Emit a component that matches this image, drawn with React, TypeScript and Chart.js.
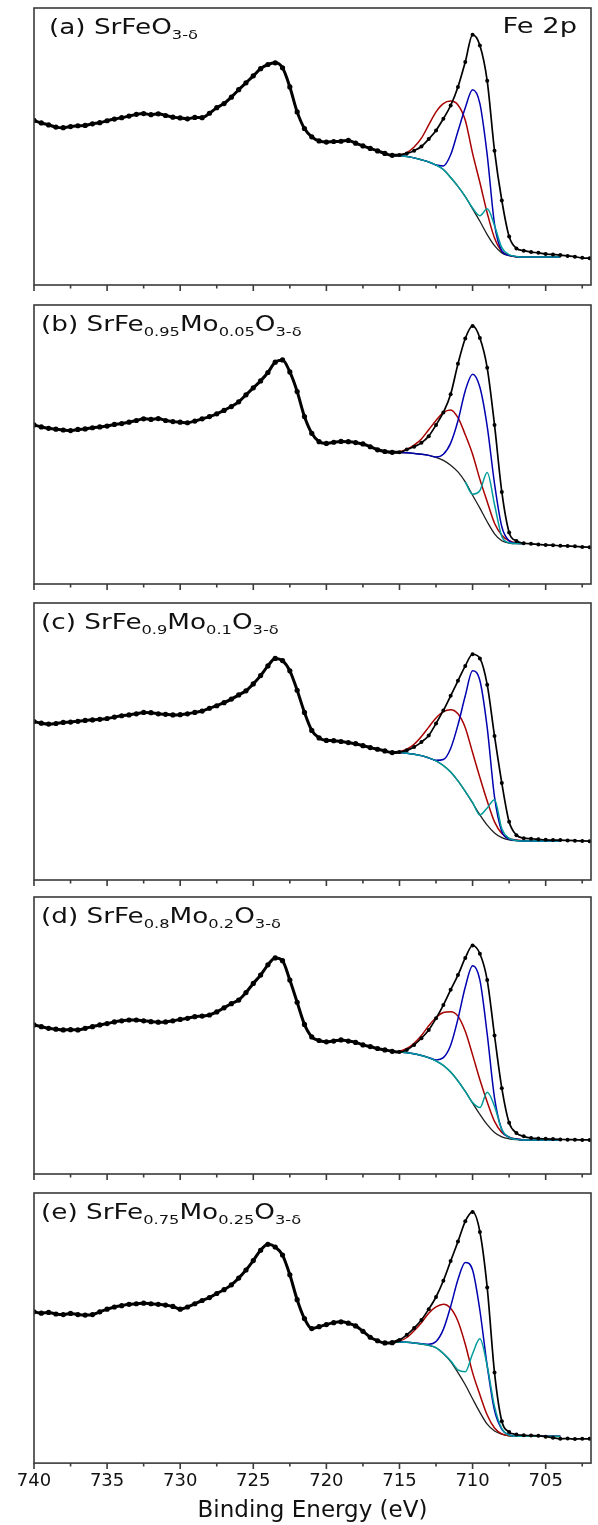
import React, { useEffect, useRef } from "react";
import { Chart, registerables } from "chart.js";
Chart.register(...registerables);

const FONT = "'DejaVu Sans', 'Liberation Sans', sans-serif";
const PAGE_W = 598;
const PAGE_H = 1525;

// ---- axis / categories ----
const energy = [
  740, 739.5, 739, 738.5, 738, 737.5, 737, 736.5, 736, 735.5,
  735, 734.5, 734, 733.5, 733, 732.5, 732, 731.5, 731, 730.5,
  730, 729.5, 729, 728.5, 728, 727.5, 727, 726.5, 726, 725.5,
  725, 724.5, 724, 723.5, 723, 722.5, 722, 721.5, 721, 720.5,
  720, 719.5, 719, 718.5, 718, 717.5, 717, 716.5, 716, 715.5,
  715, 714.5, 714, 713.5, 713, 712.5, 712, 711.5, 711, 710.5,
  710, 709.5, 709, 708.5, 708, 707.5, 707, 706.5, 706, 705.5,
  705, 704.5, 704, 703.5, 703, 702.5, 702,
];
const fitEnergy = [
  715.5, 715, 714.5, 714, 713.5, 713, 712.5, 712, 711.5, 711, 710.5, 710,
  709.5, 709, 708.5, 708, 707.5, 707, 706.5, 706, 705.5, 705, 704.5, 704,
];
const majorTicks = [740, 735, 730, 725, 720, 715, 710, 705];
const minorTicks = [737.5, 732.5, 727.5, 722.5, 717.5, 712.5, 707.5, 702.5];
const xTitle = "Binding Energy (eV)";
const coreLevel = "Fe 2p";

// label pieces: [text, isSubscript]
const labelA: [string, boolean][] = [["(a) SrFeO", false], ["3-δ", true]];
const labelB: [string, boolean][] = [["(b) SrFe", false], ["0.95", true], ["Mo", false], ["0.05", true], ["O", false], ["3-δ", true]];
const labelC: [string, boolean][] = [["(c) SrFe", false], ["0.9", true], ["Mo", false], ["0.1", true], ["O", false], ["3-δ", true]];
const labelD: [string, boolean][] = [["(d) SrFe", false], ["0.8", true], ["Mo", false], ["0.2", true], ["O", false], ["3-δ", true]];
const labelE: [string, boolean][] = [["(e) SrFe", false], ["0.75", true], ["Mo", false], ["0.25", true], ["O", false], ["3-δ", true]];

// ---- measured intensities (a.u.) ----
const intensityA = [
  59.4, 58.5, 57.8, 57.0, 56.8, 57.2, 57.5, 57.6, 58.2, 58.6,
  59.3, 59.9, 60.4, 61.0, 61.6, 61.9, 61.5, 61.8, 61.2, 60.6,
  60.3, 60.0, 60.5, 60.4, 62.0, 64.0, 65.5, 67.8, 70.5, 73.0,
  75.5, 78.1, 79.6, 80.2, 78.4, 71.5, 62.5, 56.5, 53.5, 52.0,
  51.6, 51.8, 51.9, 52.2, 51.2, 50.2, 49.3, 48.4, 47.5, 46.8,
  46.9, 47.5, 48.5, 50.0, 52.7, 55.8, 60.0, 64.8, 71.5, 80.5,
  90.3, 86.5, 73.7, 48.5, 30.5, 17.5, 13.2, 12.4, 11.9, 11.6,
  11.2, 11.0, 10.8, 10.5, 10.2, 9.8, 9.7,
];
const intensityB = [
  57.0, 56.3, 55.8, 55.5, 55.2, 55.0, 55.4, 55.6, 56.0, 56.3,
  56.6, 57.2, 57.5, 58.0, 58.6, 59.2, 59.0, 59.3, 58.6, 58.2,
  58.0, 57.8, 58.4, 59.2, 60.0, 61.0, 62.2, 63.6, 65.3, 67.8,
  70.3, 72.8, 75.8, 79.5, 80.3, 76.0, 69.0, 60.0, 54.0, 51.0,
  50.4, 50.8, 51.1, 51.0, 50.7, 50.2, 49.2, 48.1, 47.5, 47.2,
  47.2, 48.2, 49.2, 50.6, 53.0, 57.0, 61.5, 68.0, 78.9, 88.0,
  92.5, 88.2, 77.5, 57.0, 33.0, 18.5, 15.4, 14.6, 14.4, 14.2,
  14.0, 13.9, 13.7, 13.6, 13.5, 13.3, 13.2,
];
const intensityC = [
  57.2, 56.6, 56.3, 56.5, 56.9, 57.0, 57.3, 57.6, 57.8, 58.0,
  58.3, 58.8, 59.3, 59.6, 60.0, 60.5, 60.4, 60.0, 59.8, 59.6,
  59.7, 60.0, 60.5, 61.0, 62.0, 62.9, 64.0, 65.3, 66.8, 68.3,
  70.8, 73.8, 77.3, 80.0, 79.2, 75.5, 68.5, 60.5, 54.0, 51.3,
  50.4, 50.3, 50.0, 49.6, 49.2, 48.5, 47.8, 47.2, 46.6, 46.0,
  46.2, 46.8, 48.0, 49.8, 52.2, 56.5, 61.2, 66.5, 71.9, 77.3,
  81.5, 80.0, 70.5, 52.0, 35.0, 21.0, 16.2, 15.1, 14.9, 14.7,
  14.5, 14.4, 14.4, 14.3, 14.2, 14.1, 14.0,
];
const intensityD = [
  53.8, 53.2, 52.6, 52.3, 52.0, 52.1, 52.0, 52.6, 53.2, 53.8,
  54.3, 54.9, 55.3, 55.6, 55.6, 55.3, 55.0, 54.8, 54.9, 55.3,
  55.8, 56.2, 56.8, 57.0, 57.4, 58.5, 60.0, 61.5, 62.8, 65.5,
  68.8, 71.8, 75.5, 78.0, 77.0, 70.0, 62.0, 54.0, 49.5, 48.2,
  47.7, 48.0, 48.4, 48.0, 47.5, 46.6, 46.0, 45.3, 44.8, 44.3,
  44.0, 44.8, 46.6, 49.0, 52.0, 56.2, 61.0, 66.5, 71.8, 78.0,
  82.5, 79.5, 70.0, 50.0, 31.0, 18.5, 14.8, 13.6, 13.0, 12.8,
  12.7, 12.6, 12.5, 12.4, 12.4, 12.3, 12.3,
];
const intensityE = [
  56.0, 55.5, 55.8, 55.2, 55.0, 55.4, 55.0, 54.8, 55.0, 56.0,
  57.0, 57.8, 58.3, 58.8, 59.0, 59.2, 59.0, 58.8, 58.5, 58.0,
  57.0, 57.8, 59.0, 60.2, 61.3, 62.8, 64.2, 66.0, 68.5, 71.5,
  75.0, 78.8, 81.0, 80.0, 77.0, 69.7, 60.5, 53.5, 49.8, 50.5,
  51.3, 52.0, 52.3, 51.8, 50.8, 48.8, 46.6, 45.3, 44.5, 44.6,
  45.6, 47.5, 50.0, 53.0, 57.0, 61.5, 67.5, 74.8, 82.0, 89.5,
  93.0, 85.6, 65.0, 33.5, 15.5, 11.5, 10.6, 10.3, 10.2, 10.1,
  9.8, 9.4, 9.0, 9.1, 8.9, 9.0, 9.0,
];

// ---- fitted components (background, red, blue, cyan) ----
const bgA = [46.8, 46.7, 46.4, 45.9, 45.2, 44.4, 43.3, 41.7, 38.8, 35.6, 31.9, 27.5, 23.0, 18.2, 14.2, 11.6, 10.6, 10.2, 10.1, 10.1, 10.1, 10.1, 10.1, 10.1];
const cyanA = [46.8, 46.7, 46.4, 45.9, 45.2, 44.4, 43.3, 41.7, 38.8, 35.6, 31.9, 27.8, 25.0, 27.5, 21.5, 13.5, 11.0, 10.3, 10.1, 10.1, 10.1, 10.1, 10.1, 10.1];
const redA = [46.8, 47.0, 47.8, 49.8, 53.0, 57.8, 62.5, 65.5, 66.4, 65.0, 59.5, 47.5, 37.0, 26.0, 17.0, 12.2, 10.7, 10.2, 10.1, 10.1, 10.1, 10.1, 10.1, 10.1];
const blueA = [46.8, 46.7, 46.4, 45.9, 45.2, 44.4, 43.3, 43.0, 47.0, 55.5, 64.0, 70.5, 65.5, 47.0, 22.0, 12.3, 10.7, 10.2, 10.1, 10.1, 10.1, 10.1, 10.1, 10.1];

const bgB = [47.1, 47.1, 47.0, 46.8, 46.5, 46.1, 45.4, 44.3, 42.6, 40.2, 36.6, 31.8, 27.2, 22.3, 18.0, 15.5, 14.7, 14.5, 14.5, null, null, null, null, null];
const cyanB = [null, null, null, null, null, null, null, null, null, null, 36.6, 32.2, 33.5, 40.0, 28.5, 17.0, 14.8, 14.5, 14.5, null, null, null, null, null];
const redB = [47.1, 47.4, 48.3, 49.8, 52.0, 55.3, 58.6, 61.5, 62.4, 59.6, 53.5, 46.5, 37.5, 29.5, 21.8, 17.5, 15.5, 14.7, 14.5, null, null, null, null, null];
const blueB = [47.1, 47.1, 47.0, 46.8, 46.5, 46.1, 45.5, 46.5, 50.5, 58.5, 69.3, 75.2, 70.5, 56.5, 36.0, 20.5, 15.5, 14.6, 14.5, null, null, null, null, null];

const bgC = [46.0, 46.0, 45.8, 45.4, 44.9, 44.1, 43.0, 41.3, 39.0, 35.8, 32.0, 27.8, 23.5, 19.8, 17.0, 15.3, 14.5, 14.2, 14.1, 14.1, 14.1, 14.1, 14.1, 14.1];
const cyanC = [46.0, 46.0, 45.8, 45.4, 44.9, 44.1, 43.0, 41.3, 39.0, 35.8, 32.0, 28.0, 23.5, 26.0, 29.0, 18.5, 15.0, 14.3, 14.1, 14.1, 14.1, 14.1, 14.1, 14.1];
const redC = [46.0, 46.3, 47.2, 49.0, 51.8, 55.2, 58.5, 60.8, 61.5, 60.0, 55.0, 46.0, 37.0, 28.5, 21.0, 16.8, 15.0, 14.4, 14.1, 14.1, 14.1, 14.1, 14.1, 14.1];
const blueC = [46.0, 46.0, 45.8, 45.4, 44.9, 44.1, 43.2, 43.5, 47.5, 56.0, 66.5, 75.5, 72.0, 55.0, 30.0, 17.5, 14.8, 14.3, 14.1, 14.1, 14.1, 14.1, 14.1, 14.1];

const bgD = [44.0, 44.0, 43.8, 43.4, 42.8, 42.0, 40.8, 39.2, 36.8, 33.6, 29.8, 25.6, 21.5, 17.8, 15.0, 13.4, 12.7, 12.4, 12.3, 12.3, 12.3, 12.3, 12.3, 12.3];
const cyanD = [44.0, 44.0, 43.8, 43.4, 42.8, 42.0, 40.8, 39.2, 36.8, 33.6, 29.8, 25.8, 24.0, 29.5, 24.5, 16.0, 13.2, 12.5, 12.3, 12.3, 12.3, 12.3, 12.3, 12.3];
const redD = [44.0, 44.3, 45.3, 47.2, 50.0, 53.5, 56.5, 58.3, 58.6, 57.0, 51.5, 43.0, 34.0, 26.0, 19.0, 15.0, 13.3, 12.6, 12.3, 12.3, 12.3, 12.3, 12.3, 12.3];
const blueD = [44.0, 44.0, 43.8, 43.4, 42.8, 42.0, 41.2, 42.0, 46.5, 56.0, 67.5, 75.2, 70.0, 50.5, 27.5, 16.0, 13.3, 12.6, 12.3, 12.3, 12.3, 12.3, 12.3, 12.3];

const bgE = [44.8, 44.8, 44.7, 44.5, 44.1, 43.6, 42.7, 40.6, 37.6, 33.5, 29.0, 23.8, 18.8, 14.4, 11.9, 10.7, 10.1, 9.9, 9.9, 9.9, 9.9, 9.9, 9.9, 9.9];
const cyanE = [44.8, 44.8, 44.7, 44.5, 44.1, 43.6, 42.7, 40.6, 37.9, 34.5, 33.8, 40.5, 46.0, 36.0, 21.0, 12.8, 10.3, 9.9, 9.9, 9.9, 9.9, 9.9, 9.9, 9.9];
const redE = [44.8, 45.2, 46.5, 49.0, 52.0, 55.5, 57.8, 58.8, 57.3, 52.5, 44.0, 33.5, 25.3, 17.8, 13.0, 10.8, 10.1, 9.9, 9.9, 9.9, 9.9, 9.9, 9.9, 9.9];
const blueE = [44.8, 44.8, 44.7, 44.5, 44.2, 44.0, 45.0, 49.5, 58.0, 68.0, 74.3, 71.5, 56.5, 36.0, 19.5, 12.5, 10.5, 9.9, 9.9, 9.9, 9.9, 9.9, 9.9, 9.9];

type Piece = [string, boolean];
interface PanelDef {
  label: Piece[];
  data: number[];
  bg: (number | null)[];
  red: (number | null)[];
  blue: (number | null)[];
  cyan: (number | null)[];
  top: number;
  bottom: number;
  labelX: number;
}

const panels: PanelDef[] = [
  { label: labelA, data: intensityA, bg: bgA, red: redA, blue: blueA, cyan: cyanA, top: 7, bottom: 285, labelX: 49 },
  { label: labelB, data: intensityB, bg: bgB, red: redB, blue: blueB, cyan: cyanB, top: 304, bottom: 584, labelX: 41 },
  { label: labelC, data: intensityC, bg: bgC, red: redC, blue: blueC, cyan: cyanC, top: 602, bottom: 880, labelX: 41 },
  { label: labelD, data: intensityD, bg: bgD, red: redD, blue: blueD, cyan: cyanD, top: 896, bottom: 1174, labelX: 41 },
  { label: labelE, data: intensityE, bg: bgE, red: redE, blue: blueE, cyan: cyanE, top: 1192, bottom: 1470, labelX: 41 },
];

const pts = (xs: number[], ys: (number | null)[]) => xs.map((x, i) => ({ x, y: ys[i] }));

function Panel({ def, index }: { def: PanelDef; index: number }) {
  const ref = useRef<HTMLCanvasElement>(null);
  const isLast = index === panels.length - 1;
  const canvasTop = def.top - 3;
  const canvasHeight = isLast ? PAGE_H - canvasTop : def.bottom - def.top + 3 + 12;

  useEffect(() => {
    if (!ref.current) return;
    const decor = {
      id: "decor" + index,
      afterDraw(chart: any) {
        const { ctx, chartArea: ca } = chart;
        const xs = chart.scales.x;
        ctx.save();
        ctx.strokeStyle = "#3a3a3a";
        ctx.lineWidth = 1.6;
        ctx.strokeRect(ca.left, ca.top, ca.right - ca.left, ca.bottom - ca.top);
        ctx.beginPath();
        for (const v of majorTicks) {
          const p = xs.getPixelForValue(v);
          ctx.moveTo(p, ca.bottom);
          ctx.lineTo(p, ca.bottom + 6);
        }
        for (const v of minorTicks) {
          const p = xs.getPixelForValue(v);
          ctx.moveTo(p, ca.bottom);
          ctx.lineTo(p, ca.bottom + 3.5);
        }
        ctx.stroke();
        ctx.restore();

        // sample label
        ctx.save();
        ctx.fillStyle = "#111";
        ctx.textBaseline = "alphabetic";
        ctx.textAlign = "left";
        ctx.translate(def.labelX, ca.top + 26);
        ctx.scale(1.25, 1);
        let cx = 0;
        for (const [t, sub] of def.label) {
          ctx.font = sub ? `13px ${FONT}` : `21px ${FONT}`;
          ctx.fillText(t, cx, sub ? 5 : 0);
          cx += ctx.measureText(t).width;
        }
        ctx.restore();

        if (index === 0) {
          ctx.save();
          ctx.fillStyle = "#111";
          ctx.textAlign = "right";
          ctx.textBaseline = "alphabetic";
          ctx.translate(577, ca.top + 25);
          ctx.scale(1.3, 1);
          ctx.font = `21px ${FONT}`;
          ctx.fillText(coreLevel, 0, 0);
          ctx.restore();
        }
      },
    };

    const line = (data: any, color: string, width: number) => ({
      data,
      borderColor: color,
      backgroundColor: color,
      borderWidth: width,
      pointRadius: 0,
      fill: false,
      cubicInterpolationMode: "monotone" as const,
      spanGaps: false,
    });

    const chart = new Chart(ref.current, {
      type: "line",
      data: {
        datasets: [
          {
            data: pts(energy, def.data),
            borderColor: "#000",
            backgroundColor: "#000",
            borderWidth: 3,
            segment: {
              borderWidth: (c: any) => (c.p0.parsed.x < 715.2 ? 1.7 : 3),
            },
            pointRadius: (c: any) => (c.raw && c.raw.x < 715.2 ? 2 : 2.6),
            pointBorderWidth: 0,
            pointBackgroundColor: "#000",
            fill: false,
            cubicInterpolationMode: "monotone",
          },
          line(pts(fitEnergy, def.cyan), "#009c9c", 1.5),
          line(pts(fitEnergy, def.blue), "#0000b0", 1.5),
          line(pts(fitEnergy, def.red), "#a80000", 1.5),
          line(pts(fitEnergy, def.bg), "#1e1e1e", 1.3),
        ],
      },
      options: {
        responsive: false,
        animation: false,
        events: [],
        layout: { padding: { top: 3, left: 34, right: PAGE_W - 591, bottom: isLast ? 0 : 12 } },
        plugins: { legend: { display: false }, tooltip: { enabled: false } },
        scales: {
          y: { type: "linear", min: 0, max: 100, display: false },
          x: {
            type: "linear",
            min: 701.9,
            max: 740,
            reverse: true,
            display: isLast,
            grid: { display: false, drawTicks: false },
            border: { display: false },
            afterBuildTicks: (s: any) => {
              s.ticks = majorTicks.map((v) => ({ value: v }));
            },
            ticks: {
              autoSkip: false,
              maxRotation: 0,
              padding: 7,
              color: "#111",
              font: { family: FONT, size: 18 },
              callback: (v: any) => String(v),
            },
            title: {
              display: true,
              text: xTitle,
              color: "#111",
              font: { family: FONT, size: 23, lineHeight: 1.1 },
              padding: { top: 0, bottom: 1 },
            },
          },
        },
      },
      plugins: [decor],
    });
    return () => chart.destroy();
  }, []);

  return (
    <canvas
      ref={ref}
      width={PAGE_W}
      height={canvasHeight}
      style={{ position: "absolute", left: 0, top: canvasTop, width: PAGE_W, height: canvasHeight }}
    />
  );
}

export default function App() {
  return (
    <div style={{ position: "absolute", left: 0, top: 0, width: PAGE_W, height: PAGE_H, background: "#fff" }}>
      {panels.map((p, i) => (
        <Panel key={i} def={p} index={i} />
      ))}
    </div>
  );
}
